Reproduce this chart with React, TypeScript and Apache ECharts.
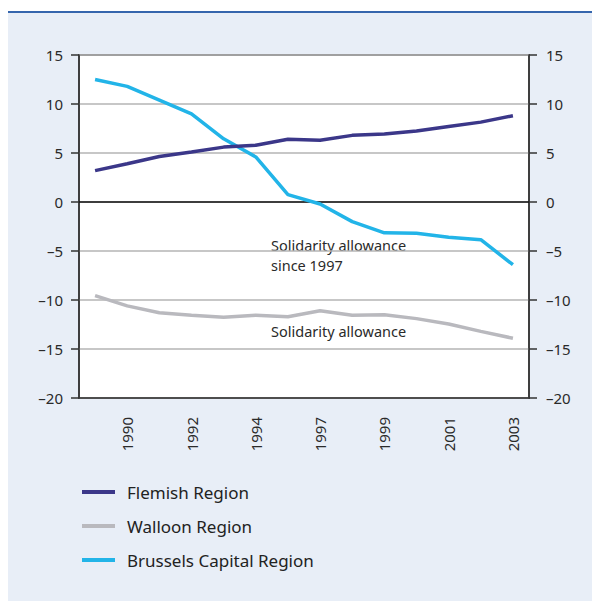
import React, { useEffect, useRef } from "react";
import * as echarts from "echarts";

const categories = ["1989", "1990", "1991", "1992", "1993", "1994", "1995", "1997", "1998", "1999", "2000", "2001", "2002", "2003"];
const flemish = [3.2, 3.9, 4.65, 5.1, 5.6, 5.8, 6.4, 6.3, 6.8, 6.95, 7.25, 7.7, 8.15, 8.8];
const walloon = [-9.55, -10.6, -11.3, -11.55, -11.75, -11.55, -11.7, -11.1, -11.55, -11.5, -11.9, -12.45, -13.2, -13.9];
const brussels = [12.5, 11.8, 10.4, 9.0, 6.45, 4.6, 0.75, -0.2, -2.0, -3.15, -3.2, -3.6, -3.85, -6.4];
const seriesNames = ["Flemish Region", "Walloon Region", "Brussels Capital Region"];
const colors = ["#3b3789", "#b9b9be", "#22b4e8"];
const yTicks = { min: -20, max: 15, interval: 5 };

const FONT = "'Noto Sans', 'Open Sans', sans-serif";
const fmt = (v: number) => String(v).replace("-", "\u2013");

export default function App() {
  const ref = useRef<HTMLDivElement>(null);
  useEffect(() => {
    if (!ref.current) return;
    const chart = echarts.init(ref.current, undefined, { renderer: "svg" });
    const axisLabel = { color: "#2a2a2a", fontSize: 15, fontFamily: FONT, formatter: fmt };
    chart.setOption({
      animation: false,
      textStyle: { fontFamily: FONT },
      grid: {
        left: 79,
        right: 63,
        top: 55,
        bottom: 203,
        show: true,
        backgroundColor: "#ffffff",
        borderColor: "#333",
        borderWidth: 1.5,
      },
      legend: {
        orient: "vertical",
        left: 77,
        top: 477,
        itemWidth: 33,
        itemHeight: 4,
        itemGap: 14,
        icon: "rect",
        data: seriesNames,
        textStyle: { fontSize: 17, color: "#222", fontFamily: FONT, padding: [0, 0, 0, 7], lineHeight: 20 },
      },
      xAxis: {
        type: "category",
        data: categories,
        boundaryGap: true,
        axisLine: { onZero: false, lineStyle: { color: "#333", width: 1.5 } },
        axisTick: { inside: true, length: 7, interval: 0, lineStyle: { color: "#333", width: 1.5 } },
        axisLabel: {
          rotate: 90,
          interval: (i: number) => i % 2 === 1,
          color: "#2a2a2a",
          fontSize: 15,
          fontFamily: FONT,
          margin: 19,
        },
        splitLine: { show: false },
      },
      yAxis: [
        {
          type: "value",
          position: "left",
          ...yTicks,
          axisLine: { show: true, lineStyle: { color: "#333", width: 1.5 } },
          axisTick: { show: true, length: 8, lineStyle: { color: "#333", width: 1.5 } },
          axisLabel: { ...axisLabel, margin: 16 },
          splitLine: { lineStyle: { color: "#b5b5b5", width: 1.5 } },
        },
        {
          type: "value",
          position: "right",
          ...yTicks,
          axisLine: { show: true, lineStyle: { color: "#333", width: 1.5 } },
          axisTick: { show: true, length: 8, lineStyle: { color: "#333", width: 1.5 } },
          axisLabel: { ...axisLabel, margin: 17 },
          splitLine: { show: false },
        },
      ],
      graphic: [
        {
          type: "text",
          left: 271,
          top: 235,
          style: {
            text: "Solidarity allowance\nsince 1997",
            fontSize: 14.5,
            lineHeight: 20,
            fill: "#2a2a2a",
            fontFamily: FONT,
          },
        },
        {
          type: "text",
          left: 271,
          top: 321,
          style: { text: "Solidarity allowance", fontSize: 14.5, lineHeight: 20, fill: "#2a2a2a", fontFamily: FONT },
        },
      ],
      series: [
        {
          name: seriesNames[0],
          type: "line",
          data: flemish,
          showSymbol: false,
          lineStyle: { color: colors[0], width: 3.5 },
          itemStyle: { color: colors[0] },
          z: 4,
          markLine: {
            silent: true,
            symbol: "none",
            label: { show: false },
            lineStyle: { color: "#111", width: 1.5, type: "solid" },
            data: [{ yAxis: 0 }],
            z: 1,
          },
        },
        {
          name: seriesNames[1],
          type: "line",
          data: walloon,
          showSymbol: false,
          lineStyle: { color: colors[1], width: 3.5 },
          itemStyle: { color: colors[1] },
          z: 3,
        },
        {
          name: seriesNames[2],
          type: "line",
          data: brussels,
          showSymbol: false,
          lineStyle: { color: colors[2], width: 3.5 },
          itemStyle: { color: colors[2] },
          z: 3,
        },
      ],
    });
    return () => chart.dispose();
  }, []);

  return (
    <div style={{ position: "fixed", left: 0, top: 0, width: 592, height: 601, background: "#fff" }}>
      <div
        style={{
          position: "absolute",
          left: 8,
          top: 11,
          width: 584,
          height: 590,
          background: "#e8eef7",
          borderTop: "2.5px solid #3565ad",
          boxSizing: "border-box",
        }}
      />
      <div ref={ref} style={{ position: "absolute", left: 0, top: 0, width: 592, height: 601 }} />
    </div>
  );
}
